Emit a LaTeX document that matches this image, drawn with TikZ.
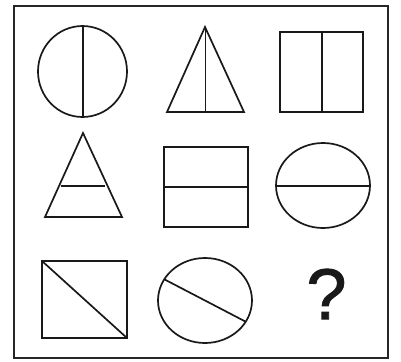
\documentclass[tikz,border=0pt]{standalone}
\usepackage{fontspec}
\setmainfont{Liberation Sans}
\newfontfamily\qfont[FakeBold=1.3]{Liberation Sans}
\begin{document}
\begin{tikzpicture}[x=1pt,y=-1pt,
  fig/.style={draw=black!90,line width=1.7pt,line join=miter},
  frame/.style={draw=black!85,line width=1.8pt}]
\useasboundingbox[fill=white] (0,0) rectangle (401,361);
% frame
\draw[frame] (14,6) rectangle (388,358);
% row 1
\draw[fig] (82.5,71.5) ellipse [x radius=44.5pt, y radius=45.5pt];
\draw[fig] (83,26) -- (83,117);
\draw[fig] (205,27) -- (244,112) -- (167,112) -- cycle;
\draw[fig] (205.5,27) -- (205.5,112);
\draw[fig] (280,32) rectangle (363,112);
\draw[fig] (322,32) -- (322,112);
% row 2
\draw[fig] (83,133) -- (122,217) -- (45,217) -- cycle;
\draw[fig] (60.6,186) -- (105.4,186);
\draw[fig] (164,147) rectangle (248,227);
\draw[fig] (164,187) -- (248,187);
\draw[fig] (323,185.5) ellipse [x radius=47pt, y radius=42.5pt];
\draw[fig] (276,186) -- (370,186);
% row 3
\draw[fig] (42,261) rectangle (127,338);
\draw[fig] (42,261) -- (127,338);
\draw[fig] (205,300.5) ellipse [x radius=47pt, y radius=42.5pt];
\draw[fig] (164.3,279.3) -- (245.7,321.7);
\node[font=\qfont\fontsize{72}{72}\selectfont, text=black!90, inner sep=0pt] (q) at (326.5,294) {?};
\end{tikzpicture}
\end{document}
